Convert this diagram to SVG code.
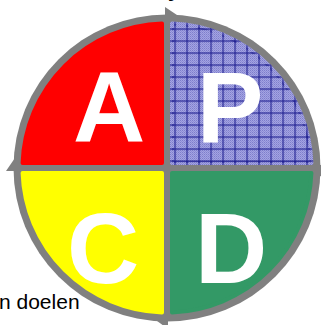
<svg xmlns="http://www.w3.org/2000/svg" width="321" height="325" viewBox="0 0 321 325">
  <style>
    .lbl { font-family: "Liberation Sans", Arial, sans-serif; font-weight: bold; font-size: 100px; fill: #ffffff; text-anchor: middle; }
    .note { font-family: "Liberation Sans", Arial, sans-serif; font-size: 21px; fill: #000000; }
    .ring { fill: #808080; }
    .q { stroke-width: 4; stroke-linejoin: round; }
  </style>
  <defs>
    <pattern id="chk" patternUnits="userSpaceOnUse" x="0" y="0" width="2" height="2">
      <rect width="2" height="2" fill="#a4a4e2"/>
      <rect width="1" height="1" fill="#7e7ecc"/>
      <rect x="1" y="1" width="1" height="1" fill="#8e8ed6"/>
    </pattern>
    <pattern id="grid" patternUnits="userSpaceOnUse" x="174.5" y="148.5" width="12" height="12">
      <rect x="0" y="0" width="1.1" height="12" fill="#1e1e90"/>
      <rect x="0" y="0" width="12" height="1.1" fill="#1e1e90"/>
    </pattern>
  </defs>
  <rect width="321" height="325" fill="#ffffff"/>
  <text class="note" x="168" y="-3" style="font-weight:bold">y</text>
  <text class="note" x="-1" y="309">n doelen</text>
  <g id="connectors">
    <circle class="ring" cx="167" cy="168" r="153.5"/>
    <polygon class="ring" points="165,7 165,29 180,17"/>
    <polygon class="ring" points="6,171 28,171 17,155"/>
    <polygon class="ring" points="168,307 168,329 153,318"/>
    <polygon class="ring" points="306,165 328,165 317,181"/>
  </g>
  <g id="node-A">
    <path class="q" d="M162,163 L162,23.59 A144.5,144.5 0 0 0 22.59,163 Z" fill="#ff0000" stroke="#ff0000"/>
    <text class="lbl" x="109" y="142">A</text>
  </g>
  <g id="node-P">
    <path class="q" d="M172,163 L172,23.59 A144.5,144.5 0 0 1 311.41,163 Z" fill="url(#chk)" stroke="url(#chk)"/>
    <path class="q" d="M172,163 L172,23.59 A144.5,144.5 0 0 1 311.41,163 Z" fill="url(#grid)" stroke="url(#grid)"/>
    <text class="lbl" x="230" y="142">P</text>
  </g>
  <g id="node-C">
    <path class="q" d="M162,173 L22.59,173 A144.5,144.5 0 0 0 162,312.41 Z" fill="#ffff00" stroke="#ffff00"/>
    <text class="lbl" x="103" y="283">C</text>
  </g>
  <g id="node-D">
    <path class="q" d="M172,173 L172,312.41 A144.5,144.5 0 0 0 311.41,173 Z" fill="#339966" stroke="#339966"/>
    <text class="lbl" x="231" y="283">D</text>
  </g>
</svg>
